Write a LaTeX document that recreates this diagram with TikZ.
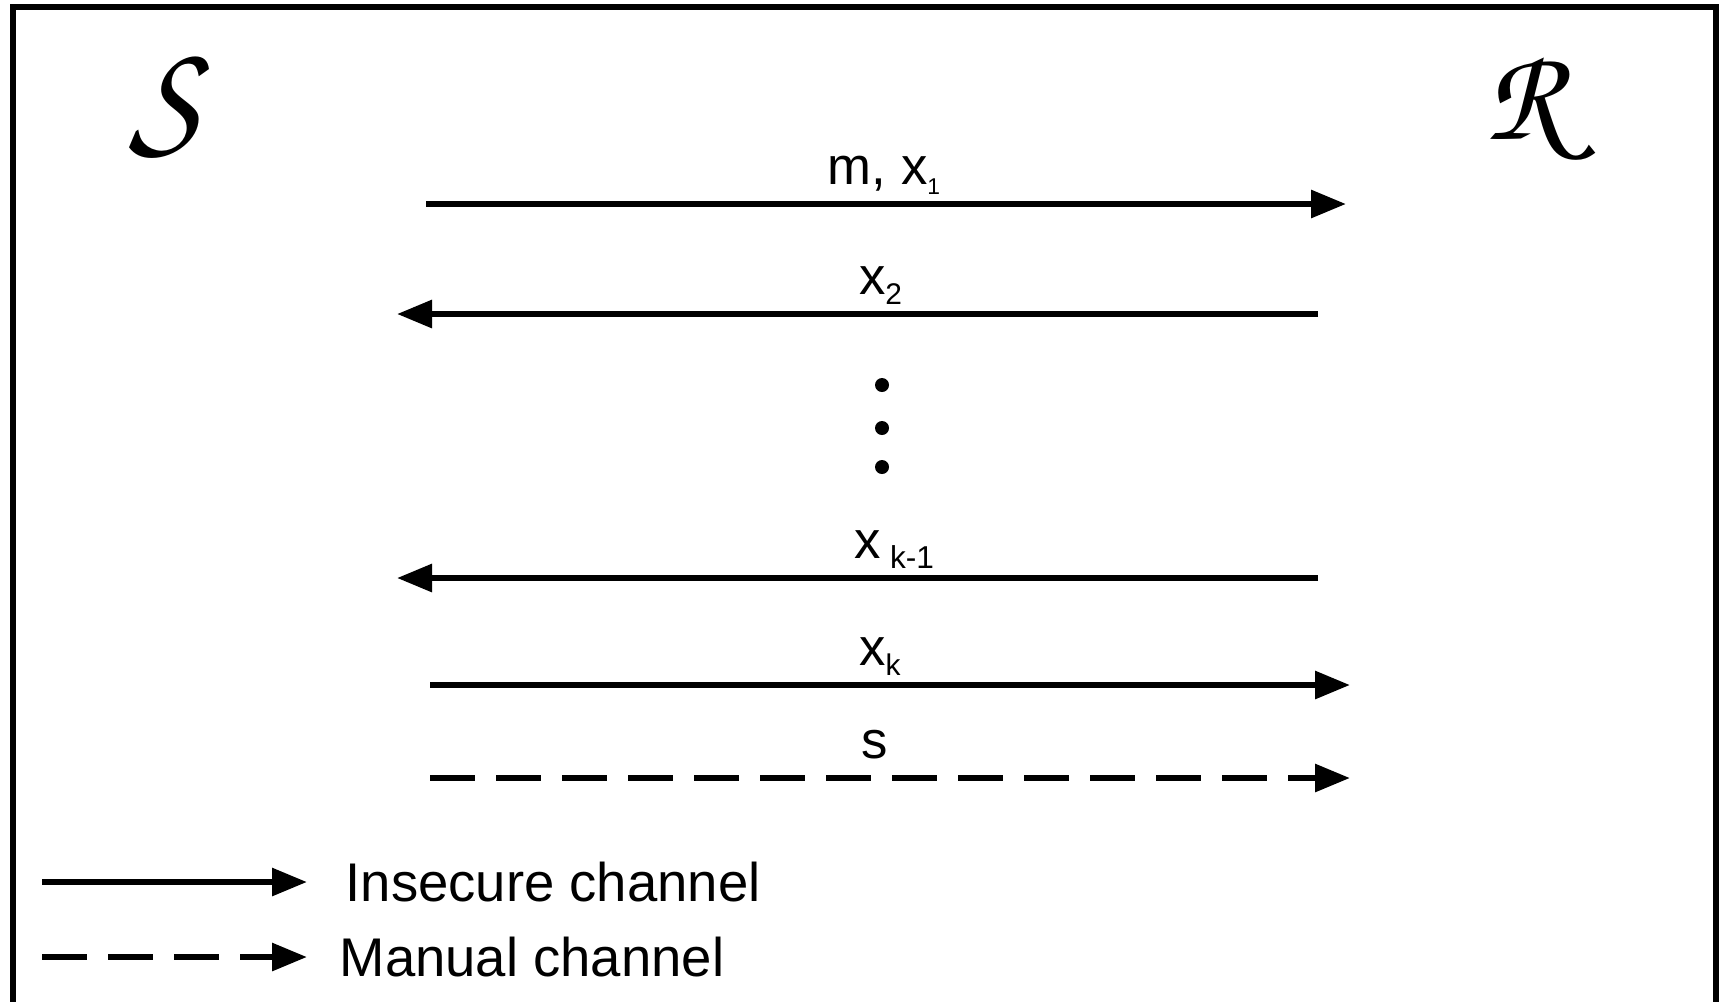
\documentclass[tikz,border=0pt]{standalone}
\usepackage{fontspec}
\setmainfont{Liberation Sans}
\usetikzlibrary{arrows.meta,positioning}
\newcommand{\lowidx}[2]{\raisebox{-0.1cm}{\fontsize{#1}{#1}\selectfont #2}}
\tikzset{
  party/.style={inner sep=0pt,font=\fontsize{#1}{#1}\usefont{OT1}{pzc}{mb}{it}},
  party/.default={44},
  msg/.style={-{Triangle[length=0.35cm,width=0.27cm]},line width=0.06cm},
  manual/.style={msg,dash pattern=on 0.45cm off 0.21cm},
  lbl/.style={font=\fontsize{15}{17}\selectfont,inner sep=0pt,anchor=base,midway,yshift=0.2cm},
  legtxt/.style={font=\fontsize{15.5}{18}\selectfont,inner sep=0pt},
  dot/.style={circle,fill,inner sep=0pt,minimum size=0.14cm},
}
\begin{document}
\begin{tikzpicture}
  \useasboundingbox (0,0) rectangle (17.21,-10.01);
  \clip (0,0) rectangle (17.21,-10.01);
  \draw[line width=0.06cm] (0.13,-0.07) rectangle (17.16,-10.6);

  \node[party] (sender) at (1.65,-1.06) {S};
  \node[party=38] (receiver) at (15.26,-1.08) {R};

  \coordinate (s1) at (4.26,-2.04);  \coordinate (r1) at (13.46,-2.04);
  \coordinate (s2) at (3.97,-3.14);  \coordinate (r2) at (13.18,-3.14);
  \coordinate (s3) at (3.97,-5.78);  \coordinate (r3) at (13.18,-5.78);
  \coordinate (s4) at (4.30,-6.85);  \coordinate (r4) at (13.50,-6.85);
  \coordinate (s5) at (4.30,-7.78);  \coordinate (r5) at (13.50,-7.78);

  \draw[msg] (s1) -- (r1) node[lbl,xshift=-0.02cm] {m, x\lowidx{6.5}{1}};
  \draw[msg] (r2) -- (s2) node[lbl,xshift=0.23cm] {x\lowidx{8.5}{2}};
  \node[dot] (dotA) at (8.82,-3.85) {};
  \node[dot] (dotB) at (8.82,-4.28) {};
  \node[dot] (dotC) at (8.82,-4.67) {};
  \draw[msg] (r3) -- (s3) node[lbl,xshift=0.37cm] {x\,\lowidx{9}{k-1}};
  \draw[msg] (s4) -- (r4) node[lbl,xshift=-0.1cm] {x\lowidx{8.5}{k}};
  \draw[manual] (s5) -- (r5) node[lbl,xshift=-0.15cm] {s};

  \coordinate (ins0) at (0.42,-8.82);  \coordinate (ins1) at (3.07,-8.82);
  \coordinate (man0) at (0.42,-9.57);  \coordinate (man1) at (3.07,-9.57);
  \draw[msg] (ins0) -- (ins1);
  \draw[manual] (man0) -- (man1);
  \node[legtxt,right=0.38cm of ins1] (instxt) {Insecure channel};
  \node[legtxt,right=0.32cm of man1] (mantxt) {Manual channel};
\end{tikzpicture}
\end{document}
